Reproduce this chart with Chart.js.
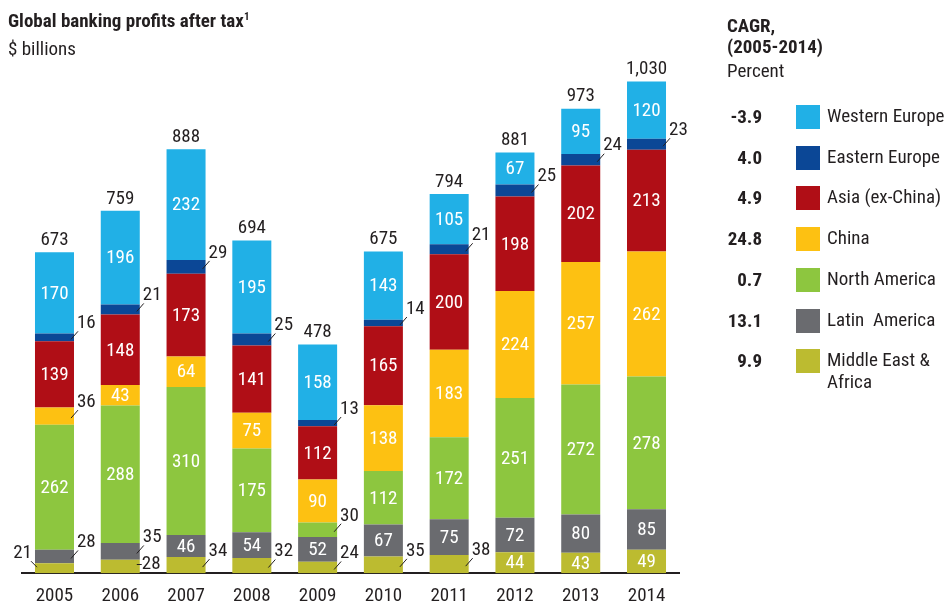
<!DOCTYPE html>
<html>
<head>
<meta charset="utf-8">
<script src="https://cdn.jsdelivr.net/npm/chart.js@4.4.1/dist/chart.umd.min.js"></script>
<style>
  html, body { margin: 0; padding: 0; background: #fff; }
  #wrap { position: relative; width: 950px; height: 603px; overflow: hidden;
    font-family: 'Liberation Sans Narrow', 'Roboto Condensed', 'Liberation Sans', sans-serif; color: #231f20; }
  #chart { position: absolute; left: 0; top: 0; }
  .title { position: absolute; left: 8px; top: 9px; font-size: 19px; font-weight: bold; }
  .title sup { font-size: 11px; }
  .sub { position: absolute; left: 8px; top: 37px; font-size: 19px; }
  .lg-head { position: absolute; left: 727px; font-size: 19px; }
  .lg-row { position: absolute; left: 700px; width: 250px; height: 24px; }
  .lg-val { position: absolute; right: 188px; top: 0; line-height: 24px; font-size: 19px; font-weight: bold; }
  .lg-sw { position: absolute; left: 96px; top: 0; width: 24px; height: 24px; }
  .lg-txt { position: absolute; left: 127px; top: 0; line-height: 22px; font-size: 19px; white-space: pre; }
</style>
</head>
<body>
<div id="wrap">
  <canvas id="chart" width="950" height="620"></canvas>
  <div class="title">Global banking profits after tax<sup>1</sup></div>
  <div class="sub">$ billions</div>
  <div class="lg-head" style="top:14px;font-weight:bold">CAGR,</div>
  <div class="lg-head" style="top:35px;font-weight:bold">(2005-2014)</div>
  <div class="lg-head" style="top:59px">Percent</div>
  <div id="legend"></div>
</div>
<script>
// categories and series (bottom to top of each stack)
const years = ["2005", "2006", "2007", "2008", "2009", "2010", "2011", "2012", "2013", "2014"]
const totals = ["673", "759", "888", "694", "478", "675", "794", "881", "973", "1,030"]

const middleEastAfrica = [21, 28, 34, 32, 24, 35, 38, 44, 43, 49]
const latinAmerica = [28, 35, 46, 54, 52, 67, 75, 72, 80, 85]
const northAmerica = [262, 288, 310, 175, 30, 112, 172, 251, 272, 278]
const china = [36, 43, 64, 75, 90, 138, 183, 224, 257, 262]
const asiaExChina = [139, 148, 173, 141, 112, 165, 200, 198, 202, 213]
const easternEurope = [16, 21, 29, 25, 13, 14, 21, 25, 24, 23]
const westernEurope = [170, 196, 232, 195, 158, 143, 105, 67, 95, 120]

const seriesNames = ["Middle East & Africa", "Latin  America", "North America", "China", "Asia (ex-China)", "Eastern Europe", "Western Europe"]
const cagr = ["9.9", "13.1", "0.7", "24.8", "4.9", "4.0", "-3.9"]
const colors = ["#bcbb30", "#6a6b6f", "#8dc63f", "#fdc112", "#b00e16", "#0b4796", "#21b0e6"]

const seriesData = [middleEastAfrica, latinAmerica, northAmerica, china, asiaExChina, easternEurope, westernEurope]

const FONT = "'Liberation Sans Narrow', 'Roboto Condensed', 'Liberation Sans', sans-serif"
const INK = "#231f20"

// small segments get labels outside the bar; special leader styles
const specialLeaders = { "0-0": "left", "1-0": "flat" }

// legend (top to bottom = reverse stack order)
const legendEl = document.getElementById("legend")
const rowTops = [105, 146, 186, 227, 268, 309, 349]
for (let r = 0; r < 7; r++) {
  const i = 6 - r
  const row = document.createElement("div")
  row.className = "lg-row"
  row.style.top = rowTops[r] + "px"
  const label = seriesNames[i] === "Middle East & Africa" ? "Middle East &amp;\nAfrica" : seriesNames[i]
  row.innerHTML = '<div class="lg-val">' + cagr[i] + '</div>' +
    '<div class="lg-sw" style="background:' + colors[i] + '"></div>' +
    '<div class="lg-txt">' + label + '</div>'
  legendEl.appendChild(row)
}

const labelPlugin = {
  id: "segmentLabels",
  afterDatasetsDraw(chart) {
    const ctx = chart.ctx
    ctx.save()
    ctx.font = "19px " + FONT
    ctx.textBaseline = "middle"
    chart.data.datasets.forEach((ds, di) => {
      const meta = chart.getDatasetMeta(di)
      meta.data.forEach((bar, i) => {
        const v = ds.data[i]
        const top = Math.min(bar.y, bar.base)
        const bottom = Math.max(bar.y, bar.base)
        const cy = (top + bottom) / 2
        const left = bar.x - bar.width / 2
        const right = bar.x + bar.width / 2
        if (v >= 40) {
          ctx.fillStyle = "#ffffff"
          ctx.textAlign = "center"
          ctx.fillText(String(v), bar.x, cy + 1)
          return
        }
        const mode = specialLeaders[i + "-" + di] || "right"
        ctx.strokeStyle = INK
        ctx.lineWidth = 1
        ctx.fillStyle = INK
        ctx.beginPath()
        if (mode === "left") {
          ctx.moveTo(left - 4, cy - 7)
          ctx.lineTo(left + 2, cy - 1)
          ctx.stroke()
          ctx.textAlign = "right"
          ctx.fillText(String(v), left - 3, cy - 15)
        } else if (mode === "flat") {
          ctx.moveTo(right - 3, cy - 2)
          ctx.lineTo(right + 2, cy - 2)
          ctx.stroke()
          ctx.textAlign = "left"
          ctx.fillText(String(v), right + 2, cy - 2)
        } else {
          ctx.moveTo(right - 3, cy + 2)
          ctx.lineTo(right + 4, cy - 6)
          ctx.stroke()
          ctx.textAlign = "left"
          ctx.fillText(String(v), right + 3, cy - 14)
        }
      })
    })
    // totals above bars
    const lastMeta = chart.getDatasetMeta(chart.data.datasets.length - 1)
    ctx.fillStyle = INK
    ctx.textAlign = "center"
    lastMeta.data.forEach((bar, i) => {
      ctx.fillText(totals[i], bar.x, bar.y - 12)
    })
    ctx.restore()
  }
}

new Chart(document.getElementById("chart").getContext("2d"), {
  type: "bar",
  data: {
    labels: years,
    datasets: seriesData.map((d, i) => ({
      label: seriesNames[i],
      data: d,
      backgroundColor: colors[i],
      borderWidth: 0,
      barPercentage: 0.593,
      categoryPercentage: 1,
    })),
  },
  options: {
    responsive: false,
    animation: false,
    layout: { padding: { left: 21.6, right: 270.6, top: 48, bottom: 0 } },
    plugins: { legend: { display: false }, tooltip: { enabled: false } },
    scales: {
      x: {
        stacked: true,
        grid: { display: false, drawTicks: false },
        border: { display: true, color: INK, width: 2 },
        ticks: { color: INK, font: { family: FONT, size: 19 }, padding: 12 },
      },
      y: {
        stacked: true,
        display: false,
        min: 0,
        max: 1100,
      },
    },
  },
  plugins: [labelPlugin],
})
</script>
</body>
</html>
